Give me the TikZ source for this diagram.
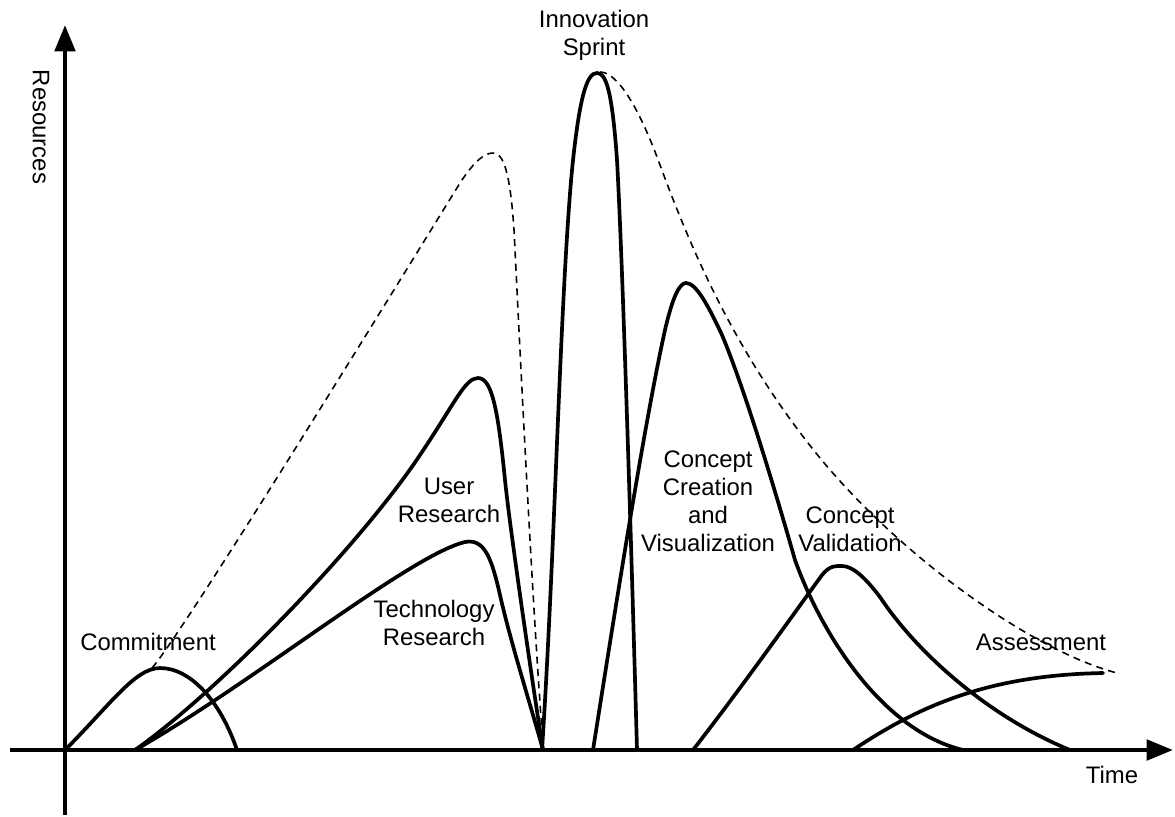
\documentclass[tikz,border=0pt]{standalone}
\usepackage{fontspec}
\setmainfont{Liberation Sans}
\usetikzlibrary{arrows.meta}
\begin{document}
\begin{tikzpicture}[x=0.02cm,y=-0.02cm,
  axis/.style={line width=2.6pt,-{Triangle[length=15pt,width=11.5pt]}},
  phase/.style={line width=2.1pt,line join=round,line cap=round},
  envelope/.style={line width=0.9pt,dash pattern=on 4pt off 3pt},
  lbl/.style={font=\fontsize{13.6}{16}\selectfont,align=center,inner sep=0pt}]
\useasboundingbox (0,0) rectangle (1175,816);
% axes
\coordinate (yb) at (65,815); \coordinate (yt) at (65,25);
\coordinate (xl) at (10,750); \coordinate (xr) at (1173,750);
\draw[axis] (yb) -- (yt);
\draw[axis] (xl) -- (xr);
% envelope (dashed)
\draw[envelope] (152,668) .. controls (185,630) and (400,280) .. (460,183)
  .. controls (475,160) and (485,153) .. (493,153)
  .. controls (503,153) and (510,170) .. (514,230)
  .. controls (520,350) and (532,600) .. (543,745);
\draw[envelope] (600,72) .. controls (618,72) and (640,110) .. (660,165)
  .. controls (695,260) and (740,360) .. (820,458)
  .. controls (900,555) and (1030,650) .. (1117,673);
% Commitment
\draw[phase] (65,750) .. controls (110,705) and (135,668) .. (160,668)
  .. controls (190,668) and (220,700) .. (237,750);
% User Research
\draw[phase] (135,750) .. controls (220,690) and (360,545) .. (420,455)
  .. controls (455,403) and (465,378) .. (478,378)
  .. controls (492,378) and (498,410) .. (505,480)
  .. controls (510,530) and (535,700) .. (543,750);
% Technology Research
\draw[phase] (135,750) .. controls (250,685) and (410,555) .. (465,542)
  .. controls (485,538) and (492,560) .. (500,595)
  .. controls (510,640) and (532,710) .. (543,750);
% Innovation Sprint
\draw[phase] (542,750) .. controls (555,550) and (560,300) .. (572,170)
  .. controls (580,90) and (588,73) .. (597,73)
  .. controls (606,73) and (612,90) .. (617,160)
  .. controls (622,250) and (630,500) .. (637,750);
% Concept Creation and Visualization
\draw[phase] (593,750) .. controls (615,610) and (645,420) .. (665,330)
  .. controls (673,295) and (680,283) .. (686,283)
  .. controls (696,283) and (708,305) .. (722,335)
  .. controls (745,390) and (775,490) .. (795,560)
  .. controls (820,630) and (880,730) .. (963,750);
% Concept Validation
\draw[phase] (693,750) .. controls (745,683) and (800,605) .. (822,575)
  .. controls (830,565) and (836,566) .. (842,566)
  .. controls (852,566) and (864,576) .. (880,597)
  .. controls (915,650) and (985,715) .. (1070,750);
% Assessment
\draw[phase] (853,750) .. controls (920,705) and (990,675) .. (1103,673);
% labels
\node[lbl,rotate=-90] (res) at (41,127) {Resources};
\node[lbl] (time) at (1112,775) {Time};
\node[lbl] (com) at (148,642) {Commitment};
\node[lbl] (ur) at (449,500) {User\\Research};
\node[lbl] (tr) at (434,623) {Technology\\Research};
\node[lbl] (is) at (594,35) {Innovation\\Sprint};
\node[lbl] (cc) at (708,501) {Concept\\Creation\\and\\Visualization};
\node[lbl] (cv) at (850,529) {Concept\\Validation};
\node[lbl] (as) at (1041,642) {Assessment};
\end{tikzpicture}
\end{document}
